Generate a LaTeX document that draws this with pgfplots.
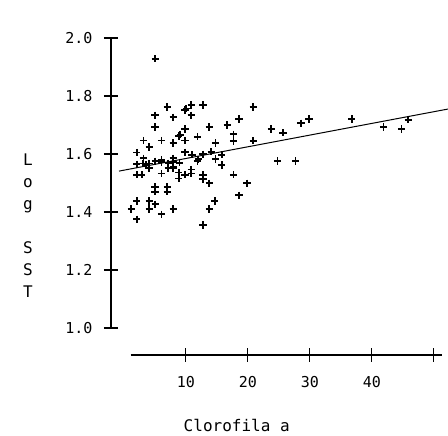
\documentclass[border=0pt]{standalone}
\usepackage{pgfplots}
\pgfplotsset{compat=1.18}
\usepackage{fontspec}
\setmainfont{DejaVu Sans Mono}
\newcommand{\tickfont}{\fontsize{15}{18}\selectfont}
\newcommand{\labfont}{\fontsize{16}{22}\selectfont}
\begin{document}
\begin{tikzpicture}
\useasboundingbox (0,0) rectangle (448pt,436pt);
% main axis (y axis + data)
\begin{axis}[
  at={(111pt,108pt)}, anchor=south west,
  x=6.2pt, y=290pt,
  xmin=-2.05, xmax=52.3, ymin=1.0, ymax=2.0,
  axis y line*=left, axis x line=none,
  clip=false,
  ytick={1.0,1.2,1.4,1.6,1.8,2.0},
  tick align=center, major tick length=14pt,
  every tick/.style={black, line width=1.2pt},
  axis line style={black, line width=1.2pt},
  yticklabel style={font=\tickfont, xshift=-8pt, /pgf/number format/.cd, fixed, fixed zerofill, precision=1, assume math mode=true},
]
\addplot[only marks, mark=+, mark size=3.6pt, mark options={line width=1.7pt, black}] coordinates {
(5.1,1.928) (7.0,1.762) (5.05,1.734) (8.0,1.727) (9.9,1.752) (10.1,1.757)
(10.9,1.769) (10.9,1.734) (12.8,1.769) (5.05,1.693) (9.9,1.686) (13.8,1.693)
(8.9,1.662) (9.1,1.666) (3.2,1.647) (6.1,1.647) (4.1,1.624) (8.0,1.638)
(9.9,1.647) (11.9,1.659) (2.1,1.605) (3.2,1.585) (9.9,1.606) (11.0,1.597)
(12.8,1.599) (14.1,1.608) (6.1,1.579) (8.0,1.585) (12.0,1.582)
(2.1,1.565) (3.1,1.567) (4.1,1.567) (5.1,1.575) (6.1,1.572) (7.2,1.568)
(8.0,1.572) (9.0,1.570) (3.6,1.562) (8.0,1.557)
(2.1,1.528) (2.9,1.528) (4.1,1.551) (6.1,1.533) (7.2,1.551) (8.0,1.551)
(8.9,1.536) (8.9,1.516) (9.9,1.528) (10.9,1.547) (10.9,1.533) (11.9,1.576)
(12.8,1.528) (12.8,1.513) (13.8,1.499) (5.05,1.487) (5.05,1.470) (7.0,1.487)
(7.0,1.470) (2.1,1.438) (1.2,1.410) (2.1,1.375) (4.1,1.438) (4.1,1.410)
(5.1,1.427) (6.1,1.392) (8.0,1.410) (12.8,1.355) (13.8,1.410) (14.7,1.438)
(14.8,1.638) (15.8,1.597) (14.8,1.583) (15.8,1.562) (16.7,1.700) (18.6,1.721)
(20.9,1.762) (17.7,1.668) (17.7,1.645) (20.9,1.646) (23.8,1.686) (25.7,1.673)
(28.6,1.706) (29.9,1.721) (24.8,1.576) (27.7,1.576) (36.8,1.721) (41.9,1.693)
(44.8,1.686) (45.9,1.718) (17.7,1.528) (19.9,1.499) (18.6,1.458)
};
\addplot[black, line width=1pt] coordinates {(-0.76,1.541) (52.3,1.755)};
\end{axis}
% detached x axis
\begin{axis}[
  at={(130.7pt,81pt)}, anchor=south west,
  x=6.2pt, y=1pt,
  xmin=1.1, xmax=51.3, ymin=0, ymax=1,
  axis x line*=bottom, axis y line=none,
  xtick={10,20,30,40,50}, xticklabels={10,20,30,40,{}},
  tick align=center, major tick length=14pt,
  every tick/.style={black, line width=1.2pt},
  axis line style={black, line width=1.2pt},
  xticklabel style={font=\tickfont, yshift=-11pt},
  xlabel={Clorofila a},
  xlabel style={font=\labfont, at={(axis cs:18.2,0)}, anchor=base, yshift=-77pt, inner sep=0pt},
]
\end{axis}
\node[font=\labfont, align=center, inner sep=0pt, anchor=north] at (28pt,282pt) {L\\o\\g\\[22pt]S\\S\\T};
\end{tikzpicture}
\end{document}
